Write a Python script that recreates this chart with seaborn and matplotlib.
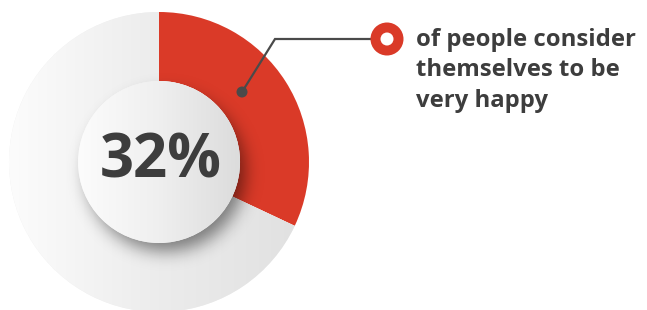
import numpy as np
import matplotlib
matplotlib.use("Agg")
import matplotlib.pyplot as plt
import seaborn as sns
from matplotlib.patches import Circle
from matplotlib.colors import LinearSegmentedColormap
from math import erf

# Chart data
share_labels = ["very happy", "other"]
share_values = [32, 68]
center_label = "32%"
note_lines = ["of people consider", "themselves to be", "very happy"]

RED = "#da3a28"
DARK = "#3d3d3d"

sns.set_theme(style="white")
plt.rcParams["font.family"] = ["Open Sans", "DejaVu Sans"]

fig = plt.figure(figsize=(6.47, 3.10), dpi=100)
fig.patch.set_facecolor("white")
ax = fig.add_axes([0, 0, 1, 1])

cx, cy = 159, 148
r_out, r_in = 150, 81

wedges, _ = ax.pie(
    share_values,
    colors=[RED, "#eeeeee"],
    startangle=90,
    counterclock=False,
    radius=r_out,
    center=(cx, cy),
    wedgeprops=dict(width=r_out - r_in, linewidth=0),
)

# light grey gradient on the remaining part of the ring
grey_cmap = LinearSegmentedColormap.from_list("ring", ["#fcfcfc", "#ececec", "#e0e0e0"])
grad = np.tile(np.linspace(0, 1, 256), (256, 1))
im = ax.imshow(grad, cmap=grey_cmap, extent=(cx - r_out, cx + r_out, cy - r_out, cy + r_out),
               origin="lower", zorder=2, interpolation="bilinear")
im.set_clip_path(wedges[1])

# soft drop shadow of the inner disc
xs = np.linspace(cx - r_out, cx + r_out, 400)
ys = np.linspace(cy - r_out, cy + r_out, 400)
X, Y = np.meshgrid(xs, ys)
d = np.hypot(X - (cx + 7), Y - (cy - 10))
verf = np.vectorize(erf)
alpha = 0.48 * 0.5 * (1 - verf((d - (r_in - 2)) / 12.0))
shadow = np.zeros((400, 400, 4))
shadow[..., 3] = alpha
ax.imshow(shadow, extent=(cx - r_out, cx + r_out, cy - r_out, cy + r_out),
          origin="lower", zorder=3, interpolation="bilinear")

# inner disc with gradient
disc = Circle((cx, cy), r_in, facecolor="#f0f0f0", edgecolor="none", zorder=4)
ax.add_patch(disc)
disc_cmap = LinearSegmentedColormap.from_list("disc", ["#fcfcfc", "#efefef", "#dcdcdc"])
im2 = ax.imshow(grad, cmap=disc_cmap, extent=(cx - r_in, cx + r_in, cy - r_in, cy + r_in),
                origin="lower", zorder=5, interpolation="bilinear")
im2.set_clip_path(disc)

ax.text(cx + 2, cy, center_label, ha="center", va="center", fontsize=43,
        fontweight="bold", color=DARK, zorder=6)

# callout: dot on the red arc, elbow line, ring marker
ax.plot([242, 275, 387], [218, 271, 271], color="#4a4a4a", lw=1.6, zorder=6,
        solid_capstyle="round", solid_joinstyle="miter")
ax.add_patch(Circle((242, 218), 5.5, facecolor="#4a4a4a", edgecolor="none", zorder=7))
ax.add_patch(Circle((387, 271), 16.5, facecolor=RED, edgecolor="none", zorder=7))
ax.add_patch(Circle((387, 271), 6.5, facecolor="white", edgecolor="none", zorder=8))

for i, line in enumerate(note_lines):
    ax.text(416, 264 - i * 30.5, line, ha="left", va="baseline", fontsize=17.2,
            fontweight="bold", color=DARK)

ax.set_xlim(0, 647)
ax.set_ylim(0, 310)
ax.set_aspect("equal")
ax.axis("off")

fig.savefig("out.png", dpi=100, facecolor="white")
